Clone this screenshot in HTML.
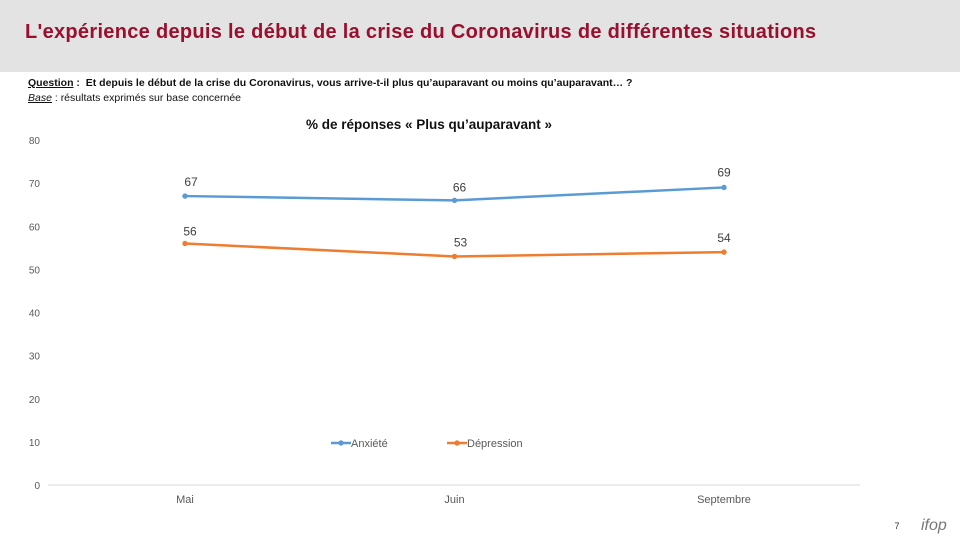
<!DOCTYPE html>
<html><head><meta charset="utf-8"><style>
body{margin:0;width:960px;height:540px;overflow:hidden;background:#fff;font-family:"Liberation Sans",sans-serif;}
</style></head><body>
<div style="position:absolute;left:0;top:0;width:960px;height:72px;background:#e3e3e3"></div>
<div style="position:absolute;left:25px;top:21px;font-size:20px;font-weight:bold;color:#9b0f2e;letter-spacing:0.3px">L'expérience depuis le début de la crise du Coronavirus de différentes situations</div>
<div style="position:absolute;left:28px;top:77px;font-size:10.5px;font-weight:bold;color:#111"><u>Question</u> :&nbsp; Et depuis le début de la crise du Coronavirus, vous arrive-t-il plus qu’auparavant ou moins qu’auparavant… ?</div>
<div style="position:absolute;left:28px;top:92px;font-size:10.5px;color:#111"><u><i>Base</i></u> : résultats exprimés sur base concernée</div>
<svg id="c" width="960" height="540" style="position:absolute;left:0;top:0"></svg>
<script>
const categories=["Mai","Juin","Septembre"];
const anxiete=[67,66,69];
const depression=[56,53,54];
const yTicks=[0,10,20,30,40,50,60,70,80];
const svg=document.getElementById('c');const NS='http://www.w3.org/2000/svg';
const y=v=>485-v*4.3125;
const x=i=>185+i*269.5;
function mk(t,a,txt){const e=document.createElementNS(NS,t);for(const k in a)e.setAttribute(k,a[k]);if(txt!=null)e.textContent=txt;svg.appendChild(e);return e;}
let e=mk('text',{x:429,y:129,'text-anchor':'middle','font-size':13.5,'font-weight':'bold',fill:'#111'},'% de réponses « Plus qu’auparavant »');


e=mk('line',{x1:48,x2:860,y1:485,y2:485,stroke:'#d9d9d9'});


yTicks.forEach(v=>{const t=mk('text',{x:40,y:y(v)+4,'text-anchor':'end','font-size':10,fill:'#595959'},v);

});
categories.forEach((c,i)=>{const t=mk('text',{x:x(i),y:503,'text-anchor':'middle','font-size':11,fill:'#595959'},c);

});
function series(d,col,name,offs){
const p=mk('polyline',{points:d.map((v,i)=>x(i)+','+y(v)).join(' '),fill:'none',stroke:col,'stroke-width':2.5});


d.forEach((v,i)=>{const c=mk('circle',{cx:x(i),cy:y(v),r:2.7,fill:col});


const t=mk('text',{x:x(i)+offs[i][0],y:y(v)+offs[i][1],'text-anchor':'middle','font-size':12,fill:'#404040'},v);

});}
series(anxiete,'#5b9bd5','anxiete',[[6,-10],[5,-9],[0,-11]]);
series(depression,'#ed7d31','depression',[[5,-8],[6,-10],[0,-10]]);
function leg(x0,col,label,name){const g=mk('line',{x1:x0,x2:x0+20,y1:443,y2:443,stroke:col,'stroke-width':2.5});


mk('circle',{cx:x0+10,cy:443,r:2.7,fill:col});
const t=mk('text',{x:x0+20,y:447,'font-size':11,fill:'#595959'},label);

}
leg(331,'#5b9bd5','Anxiété','anxiete');
leg(447,'#ed7d31','Dépression','depression');
e=mk('text',{x:897,y:529,'text-anchor':'middle','font-size':9,fill:'#333'},'7');


e=mk('text',{x:921,y:530,'font-size':16,fill:'#777','font-style':'italic'},'ifop');


</script>
</body></html>
